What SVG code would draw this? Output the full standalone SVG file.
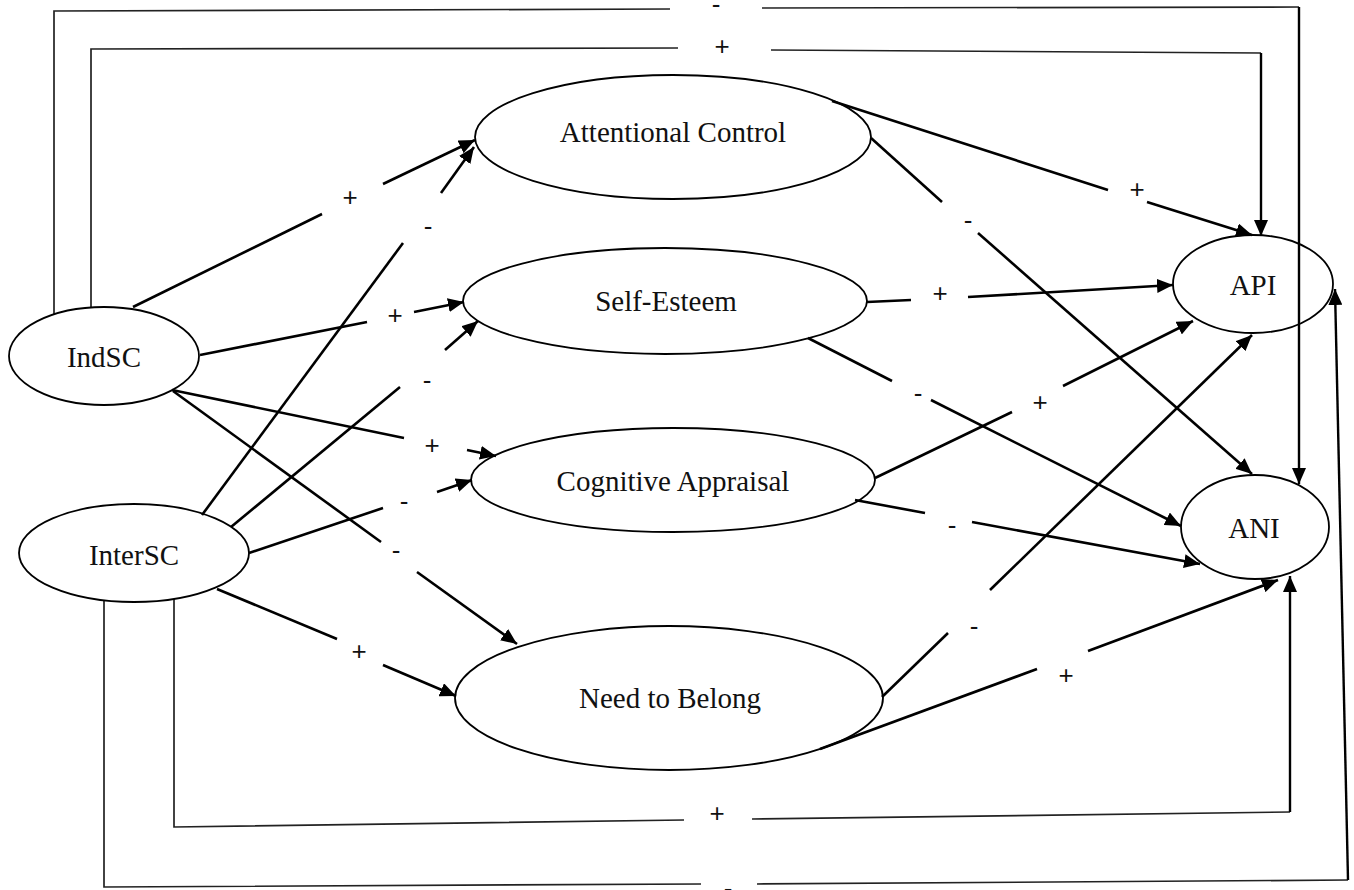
<svg xmlns="http://www.w3.org/2000/svg" width="1354" height="890" viewBox="0 0 1354 890">
<defs>
<marker id="ah" markerUnits="userSpaceOnUse" markerWidth="17" markerHeight="14" refX="16" refY="7" orient="auto">
<path d="M0,0 L16,7 L0,14 z" fill="#000"/>
</marker>
<style>
.n{fill:none;stroke:#000;stroke-width:1.8}
.t{font-family:"Liberation Serif","Times New Roman",serif;font-size:29px;text-anchor:middle;fill:#111}
.e{stroke:#000;stroke-width:2.6;fill:none}
.b{stroke:#222;stroke-width:1.7;fill:none}
.br{stroke:#000;stroke-width:2.4;fill:none}
.l{font-family:"Liberation Sans",Arial,sans-serif;font-size:26px;text-anchor:middle;fill:#111}
</style>
</defs>
<rect width="1354" height="890" fill="#fff"/>
<g id="connectors">
<!-- IndSC -> AC -->
<line class="e" x1="133" y1="307" x2="322" y2="214"/><line class="e" x1="383" y1="184" x2="475" y2="140" marker-end="url(#ah)"/>
<text class="l" x="350" y="206">+</text>
<!-- InterSC -> AC -->
<line class="e" x1="202" y1="515" x2="403" y2="243"/><line class="e" x1="441" y1="193" x2="474" y2="147" marker-end="url(#ah)"/>
<text class="l" x="428" y="235">-</text>
<!-- IndSC -> SE -->
<line class="e" x1="200" y1="355" x2="367" y2="322"/><line class="e" x1="414" y1="312" x2="464" y2="302" marker-end="url(#ah)"/>
<text class="l" x="395" y="324">+</text>
<!-- InterSC -> SE -->
<line class="e" x1="231" y1="527" x2="400" y2="387"/><line class="e" x1="445" y1="350" x2="478" y2="321" marker-end="url(#ah)"/>
<text class="l" x="427" y="389">-</text>
<!-- IndSC -> CA -->
<line class="e" x1="172" y1="390" x2="404" y2="438"/><line class="e" x1="467" y1="450" x2="496" y2="456" marker-end="url(#ah)"/>
<text class="l" x="432" y="454">+</text>
<!-- InterSC -> CA -->
<line class="e" x1="249" y1="553" x2="383" y2="508"/><line class="e" x1="437" y1="492" x2="472" y2="480" marker-end="url(#ah)"/>
<text class="l" x="404" y="510">-</text>
<!-- IndSC -> NB -->
<line class="e" x1="173" y1="391" x2="381" y2="542"/><line class="e" x1="417" y1="572" x2="517" y2="644" marker-end="url(#ah)"/>
<text class="l" x="396" y="559">-</text>
<!-- InterSC -> NB -->
<line class="e" x1="217" y1="589" x2="337" y2="639"/><line class="e" x1="383" y1="665" x2="456" y2="696" marker-end="url(#ah)"/>
<text class="l" x="359" y="660">+</text>
<!-- AC -> API -->
<line class="e" x1="832" y1="101" x2="1108" y2="190"/><line class="e" x1="1147" y1="202" x2="1252" y2="235" marker-end="url(#ah)"/>
<text class="l" x="1137" y="198">+</text>
<!-- AC -> ANI -->
<line class="e" x1="871" y1="138" x2="942" y2="202"/><line class="e" x1="978" y1="233" x2="1252" y2="474" marker-end="url(#ah)"/>
<text class="l" x="968" y="229">-</text>
<!-- SE -> API -->
<line class="e" x1="867" y1="302" x2="911" y2="300"/><line class="e" x1="968" y1="297" x2="1173" y2="285" marker-end="url(#ah)"/>
<text class="l" x="940" y="302">+</text>
<!-- SE -> ANI -->
<line class="e" x1="808" y1="338" x2="892" y2="381"/><line class="e" x1="931" y1="400" x2="1181" y2="526" marker-end="url(#ah)"/>
<text class="l" x="918" y="402">-</text>
<!-- CA -> API -->
<line class="e" x1="875" y1="478" x2="1012" y2="412"/><line class="e" x1="1063" y1="386" x2="1193" y2="321" marker-end="url(#ah)"/>
<text class="l" x="1040" y="411">+</text>
<!-- CA -> ANI -->
<line class="e" x1="855" y1="500" x2="925" y2="513"/><line class="e" x1="972" y1="522" x2="1200" y2="564" marker-end="url(#ah)"/>
<text class="l" x="952" y="534">-</text>
<!-- NB -> API -->
<line class="e" x1="882" y1="697" x2="948" y2="633"/><line class="e" x1="990" y1="590" x2="1252" y2="335" marker-end="url(#ah)"/>
<text class="l" x="974" y="635">-</text>
<!-- NB -> ANI -->
<line class="e" x1="820" y1="749" x2="1037" y2="669"/><line class="e" x1="1088" y1="651" x2="1278" y2="580" marker-end="url(#ah)"/>
<text class="l" x="1066" y="684">+</text>
<!-- IndSC -> ANI (top outer, -) -->
<path class="b" d="M54,314 L54,11 L670,9"/><path class="b" d="M762,8 L1299,7"/><path class="br" d="M1299,7 L1299,484" marker-end="url(#ah)"/>
<text class="l" x="716" y="13">-</text>
<!-- IndSC -> API (top inner, +) -->
<path class="b" d="M91,307 L91,49 L678,48"/><path class="b" d="M771,50 L1261,53"/><path class="br" d="M1261,53 L1261,236" marker-end="url(#ah)"/>
<text class="l" x="722" y="55">+</text>
<!-- InterSC -> ANI (bottom inner, +) -->
<path class="b" d="M174,599 L174,827 L684,820"/><path class="b" d="M752,819 L1290,812"/><path class="br" d="M1290,812 L1290,576" marker-end="url(#ah)"/>
<text class="l" x="717" y="822">+</text>
<!-- InterSC -> API (bottom outer, -) -->
<path class="b" d="M104,600 L104,887 L701,884"/><path class="b" d="M757,884 L1348,880"/><path class="br" d="M1348,880 L1335,289" marker-end="url(#ah)"/>
<text class="l" x="728" y="897">-</text>
</g>
<g id="node-ac"><ellipse class="n" cx="673" cy="137" rx="198" ry="62"/><text class="t" x="673" y="142">Attentional Control</text></g>
<g id="node-se"><ellipse class="n" cx="665" cy="301" rx="202" ry="53"/><text class="t" x="666" y="311">Self-Esteem</text></g>
<g id="node-ca"><ellipse class="n" cx="673" cy="480" rx="202" ry="52"/><text class="t" x="673" y="491">Cognitive Appraisal</text></g>
<g id="node-nb"><ellipse class="n" cx="669" cy="698" rx="214" ry="72"/><text class="t" x="670" y="708">Need to Belong</text></g>
<g id="node-indsc"><ellipse class="n" cx="104" cy="356" rx="95" ry="49"/><text class="t" x="104" y="367">IndSC</text></g>
<g id="node-intersc"><ellipse class="n" cx="134" cy="553" rx="115" ry="49"/><text class="t" x="134" y="565">InterSC</text></g>
<g id="node-api"><ellipse class="n" cx="1253" cy="284" rx="80" ry="49"/><text class="t" x="1253" y="295">API</text></g>
<g id="node-ani"><ellipse class="n" cx="1255" cy="527" rx="74" ry="52"/><text class="t" x="1254" y="538">ANI</text></g>
</svg>
